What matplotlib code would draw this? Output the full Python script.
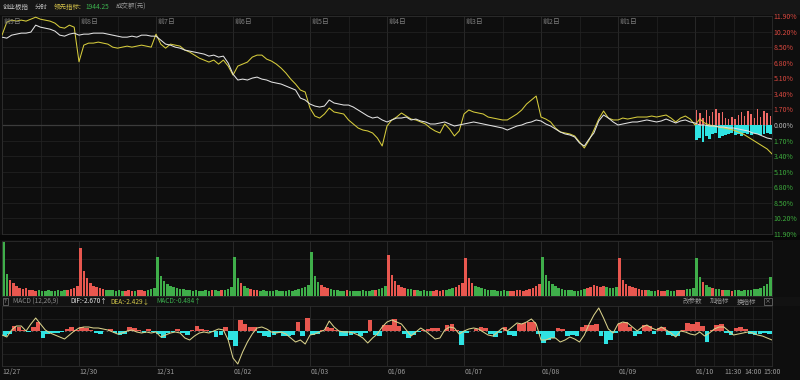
import numpy as np
import matplotlib
matplotlib.use("Agg")
import matplotlib.pyplot as plt
from matplotlib.transforms import blended_transform_factory

plt.rcParams['font.family'] = ['Noto Sans CJK SC', 'DejaVu Sans']

# ---------------- data ----------------
index_name = "创业板指"
lead_value = 1944.25
dif_now, dea_now, macd_now = -2.670, -2.429, -0.484

day_tags = ["前9日", "前8日", "前7日", "前6日", "前5日", "前4日", "前3日", "前2日", "前1日"]
dates = ["12/27", "12/30", "12/31", "01/02", "01/03", "01/06", "01/07", "01/08", "01/09", "01/10"]
time_labels = ["11:30", "14:00", "15:00"]
time_pos = [9.5, 9.75, 10.0]

# price (white) and leading indicator (yellow), % vs. today's prev close, 16 samples / day
white_pct = [
    [9.59, 9.48, 9.81, 9.92, 10.03, 10.03, 10.14, 10.90, 10.68, 10.57, 10.46, 10.25, 9.81, 9.70, 9.92, 10.03],
    [9.81, 9.92, 9.92, 10.03, 10.03, 10.03, 9.92, 9.81, 9.70, 9.59, 9.59, 9.70, 9.59, 9.81, 9.81, 9.70],
    [9.70, 9.27, 8.83, 8.72, 8.50, 8.39, 8.18, 8.07, 7.96, 7.85, 7.74, 7.52, 7.63, 7.41, 7.52, 6.76],
    [5.56, 4.91, 5.01, 4.91, 5.12, 5.23, 5.01, 4.91, 4.69, 4.58, 4.47, 4.25, 4.03, 3.82, 2.94, 2.73],
    [2.29, 2.07, 1.96, 2.07, 2.73, 2.40, 2.29, 2.18, 2.18, 1.96, 1.64, 1.31, 0.98, 0.76, 0.87, 0.55],
    [0.33, 0.55, 0.76, 0.76, 0.87, 0.55, 0.65, 0.44, 0.33, 0.11, 0.11, 0.22, 0.33, 0.11, -0.11, 0.00],
    [0.11, 0.22, 0.33, 0.22, 0.11, 0.00, -0.11, -0.22, -0.33, -0.55, -0.33, -0.11, 0.00, 0.22, 0.33, 0.55],
    [0.44, 0.11, -0.11, -0.44, -0.76, -0.98, -1.09, -1.31, -1.96, -2.29, -1.53, -0.87, 0.44, 1.09, 0.76, 0.33],
    [0.00, 0.11, 0.22, 0.33, 0.33, 0.44, 0.55, 0.44, 0.33, 0.44, 0.65, 0.44, 0.22, 0.44, 0.55, 0.33],
    [0.22, 0.00, 0.00, -0.11, -0.11, -0.22, -0.22, -0.33, -0.33, -0.44, -0.55, -0.65, -0.87, -0.98, -1.20, -1.42, -1.53],
]
yellow_pct = [
    [9.81, 11.23, 11.45, 11.34, 11.45, 11.34, 11.55, 11.77, 11.55, 11.45, 11.34, 11.12, 10.68, 10.57, 10.90, 10.68],
    [6.90, 8.72, 8.94, 8.94, 9.05, 8.94, 8.83, 8.50, 8.39, 8.50, 8.61, 8.50, 8.61, 8.72, 8.61, 8.50],
    [9.92, 8.83, 8.39, 8.83, 8.72, 8.61, 8.18, 7.96, 7.63, 7.30, 7.09, 6.87, 7.09, 6.65, 7.09, 6.43],
    [5.45, 6.43, 6.65, 6.87, 7.41, 7.63, 7.63, 7.19, 6.98, 6.65, 6.21, 5.67, 5.01, 4.47, 3.82, 3.60],
    [1.85, 0.98, 0.76, 1.20, 1.85, 1.42, 1.31, 1.20, 0.55, 0.11, -0.33, -0.55, -0.65, -0.87, -1.42, -2.29],
    [-0.11, 0.55, 0.87, 1.31, 0.98, 0.65, 0.55, 0.33, 0.11, -0.33, -0.65, -0.87, 0.11, -0.44, -1.20, -0.65],
    [1.20, 1.64, 1.42, 1.31, 1.20, 0.87, 0.76, 0.65, 0.55, 0.55, 0.87, 1.20, 1.64, 2.29, 2.73, 3.16],
    [0.87, 0.65, 0.33, -0.33, -0.76, -0.87, -0.98, -1.20, -1.85, -2.51, -1.64, -0.55, 0.65, 1.53, 0.76, 0.55],
    [0.55, 0.76, 0.65, 0.76, 0.87, 0.87, 0.87, 0.98, 0.87, 0.98, 1.09, 0.76, 0.33, 0.76, 0.98, 0.65],
    [0.00, 0.65, 0.22, 0.00, -0.11, -0.22, -0.33, -0.44, -0.55, -0.76, -0.98, -1.31, -1.64, -1.96, -2.29, -2.62, -3.16],
]

# today's red / cyan bars in the price panel (%)
today_red = [1.64, 1.31, 0.76, 1.64, 0.98, 1.42, 1.74, 1.31, 1.42, 0.76, 0.65, 0.87,
             0.65, 1.09, 1.42, 0.98, 1.53, 1.20, 0.76, 1.74, 0.87, 1.53, 1.31, 0.98]
today_cyan = [-1.64, -1.42, -1.85, -1.20, -1.53, -0.98, -0.87, -1.42, -1.20, -1.09, -0.98, -0.87,
              -1.09, -0.98, -1.20, -0.87, -0.98, -1.09, -0.87, -0.98, -1.09, -0.98, -0.87, -0.98]

# turnover, 24 bars / day (relative units)
volume = [
    [54, 22, 16, 13, 10, 8, 7, 8, 6, 6, 5, 6, 5, 5, 6, 5, 5, 6, 5, 6, 6, 7, 8, 10],
    [48, 25, 18, 13, 10, 9, 8, 7, 6, 6, 6, 5, 6, 5, 5, 6, 5, 5, 6, 6, 5, 6, 7, 8],
    [39, 20, 15, 12, 10, 9, 8, 7, 7, 6, 6, 5, 6, 5, 5, 6, 5, 6, 6, 5, 6, 6, 7, 9],
    [39, 18, 13, 10, 8, 7, 6, 6, 5, 6, 5, 5, 5, 6, 5, 5, 5, 6, 5, 6, 7, 8, 9, 11],
    [44, 20, 14, 11, 9, 8, 7, 6, 6, 5, 5, 6, 5, 5, 5, 5, 6, 5, 5, 6, 6, 7, 8, 10],
    [41, 21, 15, 11, 9, 8, 7, 7, 6, 6, 5, 6, 5, 5, 5, 6, 5, 6, 6, 7, 8, 9, 11, 13],
    [38, 18, 13, 10, 9, 8, 7, 6, 6, 6, 5, 5, 6, 5, 5, 5, 6, 6, 5, 6, 7, 8, 10, 12],
    [39, 21, 15, 12, 10, 8, 7, 6, 6, 6, 5, 5, 6, 7, 8, 9, 11, 10, 9, 10, 9, 8, 8, 9],
    [38, 16, 12, 10, 9, 8, 7, 6, 6, 6, 5, 5, 6, 5, 5, 6, 5, 5, 6, 6, 6, 7, 7, 8],
    [38, 19, 14, 11, 9, 8, 7, 7, 6, 6, 6, 5, 6, 6, 5, 6, 6, 6, 7, 7, 8, 10, 12, 19],
]

# MACD(12,26,9): DIF line and histogram, 16 samples / day
macd_line = [
    [-0.4, -0.6, 0.1, 0.5, 0.5, 0.0, 0.7, 1.3, 0.7, 0.1, -0.2, -0.4, -0.6, -0.8, -0.4, 0.0],
    [0.3, 0.4, 0.4, 0.3, 0.3, 0.2, 0.1, -0.1, -0.3, -0.2, 0.0, 0.1, -0.1, -0.2, -0.1, -0.2],
    [-0.1, -0.6, -0.4, -0.2, -0.1, -0.2, -0.7, -0.9, -0.5, -0.2, -0.1, -0.2, 0.0, 0.2, 0.1, -0.9],
    [-2.7, -3.3, -2.1, -1.1, -0.3, 0.3, 0.4, 0.2, -0.1, -0.2, -0.1, -0.3, -0.7, -1.1, -0.9, -1.3],
    [-0.4, -0.3, -0.1, 0.1, 1.0, 0.4, 0.0, -0.1, -0.1, -0.2, -0.4, -0.7, -1.2, -0.7, -0.3, 0.4],
    [0.9, 1.1, 0.9, 0.7, 0.1, -0.5, -0.1, 0.3, 0.0, -0.4, -0.8, -0.7, 0.1, 0.4, 0.3, -0.3],
    [0.0, 0.2, 0.3, 0.2, -0.1, -0.4, -0.5, -0.1, 0.3, 0.0, 0.4, 0.8, 0.7, 0.9, 1.2, 0.7],
    [-0.9, -0.9, -0.7, -0.7, -1.1, -0.9, -0.6, -0.8, -1.1, -0.4, 0.7, 1.6, 2.3, 1.3, 0.2, -0.2],
    [0.7, 0.9, 0.8, 0.4, 0.0, 0.4, 0.6, 0.3, 0.1, 0.4, 0.1, -0.2, -0.6, 0.0, -0.1, -0.3],
    [-0.4, -0.1, -0.5, -0.2, 0.2, 0.4, 0.4, 0.0, -0.4, -0.3, -0.2, -0.1, -0.2, -0.4, -0.5, -0.7, -0.9],
]
macd_hist = [
    [-0.5, -0.3, 0.5, 0.4, 0.1, -0.1, 0.4, 0.9, -0.7, -0.3, -0.2, -0.2, -0.1, 0.2, 0.4, 0.1],
    [0.4, 0.3, 0.1, -0.2, -0.3, 0.0, 0.2, -0.2, -0.4, -0.3, 0.4, 0.3, 0.1, -0.2, 0.2, -0.1],
    [-0.3, -0.7, -0.2, -0.1, 0.2, -0.2, -0.4, 0.1, 0.5, 0.2, 0.1, -0.1, -0.6, -0.4, 0.4, -0.9],
    [-1.5, 1.1, 0.7, 0.4, 0.4, -0.2, -0.5, -0.6, -0.4, -0.2, -0.5, -0.5, -0.4, 0.9, -0.5, 1.3],
    [-0.4, -0.3, 0.1, 0.4, 0.3, 0.1, -0.5, -0.5, -0.4, -0.2, -0.5, -0.2, 1.1, -0.4, -0.5, 0.6],
    [0.6, 1.2, 0.5, -0.3, -0.7, -0.4, -0.1, 0.1, 0.2, 0.3, 0.3, 0.0, 0.6, 0.7, 0.1, -1.4],
    [-0.2, 0.0, 0.2, 0.4, 0.3, -0.3, -0.6, -0.2, 0.4, -0.4, -0.5, 0.7, 0.8, 0.9, 0.9, -0.3],
    [-1.2, -0.9, -0.7, 0.3, 0.2, -0.5, -0.4, -0.5, 0.4, 0.6, 0.6, 0.7, -0.5, -1.3, -0.9, -0.2],
    [0.8, 0.9, 0.4, -0.5, -0.3, 0.6, 0.5, -0.3, 0.3, 0.4, -0.4, -0.5, -0.5, 0.1, 0.8, 0.7],
    [0.9, 0.5, -1.1, 0.1, 0.6, 0.7, -0.2, -0.4, 0.3, 0.4, 0.2, -0.3, -0.4, -0.3, -0.2, -0.3],
]

# ---------------- styling ----------------
BG = "#0e0e0e"
GRID = "#242424"
GRID_DAY = "#2c2c2c"
RED = "#e8574f"
GREEN = "#3fae4a"
CYAN = "#2fe3e3"
TXT = "#9a9a9a"
FS = 5.0


def rect(x0, y0, x1, y1):
    return [x0 / 800, 1 - y1 / 380, (x1 - x0) / 800, (y1 - y0) / 380]


def ftext(x, y, s, **kw):
    kw.setdefault("fontsize", FS)
    kw.setdefault("color", TXT)
    fig.text(x / 800, 1 - y / 380, s, va="center", **kw)


def day_x(d, n, step):
    return d + np.arange(n) / step


def style_panel(ax):
    ax.set_facecolor(BG)
    ax.set_xlim(0, 10)
    ax.set_xticks([])
    ax.set_yticks([])
    for s in ax.spines.values():
        s.set_color(GRID_DAY)
        s.set_linewidth(0.6)
    # vertical grid: half days, quarters for today
    for d in range(10):
        ax.axvline(d, color=GRID_DAY, lw=0.6, zorder=0)
        if d < 9:
            ax.axvline(d + 0.5, color=GRID, lw=0.5, zorder=0)
        else:
            for q in (0.25, 0.5, 0.75):
                ax.axvline(d + q, color=GRID, lw=0.5, zorder=0)


fig = plt.figure(figsize=(8, 3.8), dpi=100, facecolor=BG)

# header strips
hdr = fig.add_axes(rect(0, 0, 800, 14.5))
hdr.add_patch(plt.Rectangle((0, 0), 1, 1, transform=hdr.transAxes, color="#161616"))
hdr.axis("off")
sep = fig.add_axes(rect(0, 235, 800, 240))
sep.add_patch(plt.Rectangle((0, 0), 1, 1, transform=sep.transAxes, color="#070707"))
sep.axis("off")
mh = fig.add_axes(rect(0, 296.5, 800, 306))
mh.add_patch(plt.Rectangle((0, 0), 1, 1, transform=mh.transAxes, color="#121212"))
mh.axis("off")

# ---------------- main price panel ----------------
ax = fig.add_axes(rect(2, 16, 772, 234))
style_panel(ax)
ax.set_ylim(-11.9, 11.9)
ticks = np.round(np.arange(-7, 8) * 1.7, 2)
for t in ticks:
    ax.axhline(t, color="#3c3c3c" if t == 0 else GRID, lw=0.9 if t == 0 else 0.5, zorder=0)
ax.yaxis.tick_right()
ax.set_yticks(ticks)
ax.set_yticklabels([f"{abs(t):.2f}%" for t in ticks], fontsize=FS)
ax.tick_params(axis="y", length=0, pad=1.2)
for lab, t in zip(ax.get_yticklabels(), ticks):
    lab.set_color("#d9483f" if t > 0 else ("#3caa3c" if t < 0 else "#b8b8b8"))

xw = np.concatenate([day_x(d, len(v), 16) for d, v in enumerate(white_pct)])
xy = np.concatenate([day_x(d, len(v), 16) for d, v in enumerate(yellow_pct)])

# today's red / cyan bars
xb = 9 + (np.arange(len(today_red)) + 0.5) / len(today_red)
ax.bar(xb, today_cyan, width=0.9 / len(today_cyan), color=CYAN, linewidth=0, zorder=2)
ax.bar(xb, today_red, width=0.45 / len(today_red), color="#f06a66", linewidth=0, zorder=2)

ax.plot(xy, np.concatenate(yellow_pct), color="#d6cc3c", lw=0.75, zorder=3)
ax.plot(xw, np.concatenate(white_pct), color="#e2e2e2", lw=0.75, zorder=4)

tr = blended_transform_factory(ax.transData, ax.transAxes)
for d, tag in enumerate(day_tags):
    ax.text(d + 0.02, 0.972, tag, transform=tr, fontsize=FS, color="#7c7c7c", va="center")

# ---------------- volume panel ----------------
axv = fig.add_axes(rect(2, 241, 772, 296))
style_panel(axv)
axv.set_ylim(0, 55)
for h in (55 / 3, 110 / 3):
    axv.axhline(h, color=GRID, lw=0.5, zorder=0)
for d, vals in enumerate(volume):
    n = len(vals)
    w = white_pct[d]
    cols = []
    for j in range(n):
        k = min(j * 16 // n, len(w) - 2)
        cols.append(RED if w[k + 1] >= w[k] else GREEN)
    axv.bar(d + (np.arange(n) + 0.5) / n, vals, width=0.8 / n, color=cols, linewidth=0, zorder=2)

# ---------------- MACD panel ----------------
axm = fig.add_axes(rect(2, 306, 772, 366))
style_panel(axm)
axm.set_ylim(-3.5, 2.5)
for h in (1.2, -1.1, -2.3):
    axm.axhline(h, color=GRID, lw=0.5, zorder=0)
axm.axhline(0, color="#6a6a6a", lw=0.6, ls=(0, (2, 3)), zorder=1)
for d, vals in enumerate(macd_hist):
    n = len(vals)
    cols = [RED if v >= 0 else CYAN for v in vals]
    axm.bar(d + (np.arange(n) + 0.5) / n, vals, width=0.95 / n, color=cols, linewidth=0, zorder=2)
xm = np.concatenate([day_x(d, len(v), 16) for d, v in enumerate(macd_line)])
axm.plot(xm, np.concatenate(macd_line), color="#d8d08a", lw=0.75, zorder=3)

trm = blended_transform_factory(axm.transData, axm.transAxes)
for d, lab in enumerate(dates):
    axm.text(d + 0.01, -0.1, lab, transform=trm, fontsize=FS, color=TXT, va="center", ha="left")
for p, lab in zip(time_pos, time_labels):
    axm.text(p, -0.1, lab, transform=trm, fontsize=FS, color=TXT, va="center", ha="center")

# ---------------- header texts ----------------
HF = 4.7
ftext(3, 7, index_name, color="#c4c4c4", fontsize=HF)
ftext(35, 7, "分时", color="#b0b0b0", fontsize=HF)
ftext(54, 7, "领先指标:", color="#d4c14a", fontsize=HF)
ftext(85, 7, f"{lead_value:.2f}", color="#3cb34f", fontsize=HF)
ftext(116, 7, "成交额(元)", color="#9a9a9a", fontsize=HF)

ftext(4, 301.5, "?", color="#9a9a9a", fontsize=4.3,
      bbox=dict(boxstyle="square,pad=0.25", fc="none", ec="#777777", lw=0.5))
ftext(13, 301.5, "MACD (12,26,9)", color="#8a8a8a", fontsize=HF)
ftext(70, 301.5, f"DIF:{dif_now:.3f}↑", color="#e6e6e6", fontsize=HF)
ftext(110, 301.5, f"DEA:{dea_now:.3f}↓", color="#d4c84a", fontsize=HF)
ftext(156, 301.5, f"MACD:{macd_now:.3f}↑", color="#3cb34f", fontsize=HF)
ftext(683, 301.5, "改参数", color="#9a9a9a", fontsize=HF)
ftext(710, 301.5, "加指标", color="#9a9a9a", fontsize=HF)
ftext(737, 301.5, "换指标", color="#9a9a9a", fontsize=HF)
ftext(765, 301.5, "×", color="#9a9a9a", fontsize=4.3,
      bbox=dict(boxstyle="square,pad=0.2", fc="none", ec="#777777", lw=0.5))

fig.savefig("out.png", dpi=100, facecolor=BG)
